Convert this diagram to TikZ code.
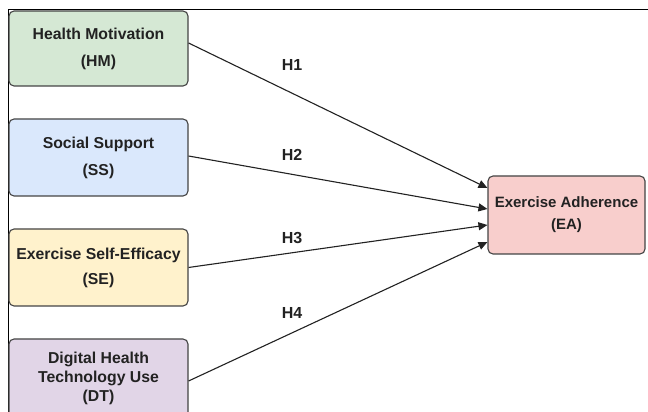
\documentclass[tikz,border=0pt]{standalone}
\usepackage{fontspec}
\setmainfont{Liberation Sans}
\usetikzlibrary{arrows.meta}
\definecolor{hmfill}{HTML}{D5E8D4}
\definecolor{ssfill}{HTML}{DAE8FC}
\definecolor{sefill}{HTML}{FFF2CC}
\definecolor{dtfill}{HTML}{E1D5E7}
\definecolor{eafill}{HTML}{F8CECC}
\definecolor{boxline}{HTML}{444444}
\definecolor{txt}{HTML}{222222}
\tikzset{
  varbox/.style={draw=boxline, line width=1.1pt, rounded corners=5pt, align=center,
    text=txt, font=\fontsize{15.8}{19}\selectfont\bfseries, inner sep=2pt},
  hyp/.style={-{Triangle[length=9pt,width=8pt]}, line width=1.1pt, draw=txt},
  hlabel/.style={text=txt, font=\fontsize{16}{18}\selectfont\bfseries},
  frameline/.style={draw=black, line width=1pt}
}
\begin{document}
\begin{tikzpicture}[x=1pt,y=1pt]
\useasboundingbox (0,0) rectangle (648,412);
\begin{scope}
\clip (0,0) rectangle (648,412);
\fill[white] (0,0) rectangle (648,412);
\draw[frameline] (8,0) -- (8,402) -- (648,402);
\node[varbox, fill=hmfill, minimum width=179pt, minimum height=75pt] (HM) at (98.5,363.5) {Health Motivation\\[8pt](HM)};
\node[varbox, fill=ssfill, minimum width=179pt, minimum height=77pt] (SS) at (98.5,254.5) {Social Support\\[8pt](SS)};
\node[varbox, fill=sefill, minimum width=179pt, minimum height=77pt] (SE) at (98.5,144.5) {Exercise Self-Efficacy\\[6pt](SE)};
\node[varbox, fill=dtfill, minimum width=179pt, minimum height=79pt] (DT) at (98.5,33.5) {Digital Health\\Technology Use\\(DT)};
\node[varbox, fill=eafill, minimum width=157pt, minimum height=78pt, font=\fontsize{15}{18}\selectfont\bfseries] (EA) at (566.5,197) {Exercise Adherence\\[4pt](EA)};
\draw[hyp] ([yshift=5.5pt]HM.east) -- ([yshift=27pt]EA.west);
\draw[hyp] ([yshift=1.5pt]SS.east) -- ([yshift=6pt]EA.west);
\draw[hyp] (SE.east) -- ([yshift=-10pt]EA.west);
\draw[hyp] ([yshift=-2.5pt]DT.east) -- ([yshift=-27pt]EA.west);
\node[hlabel] (H1) at (292,347) {H1};
\node[hlabel] (H2) at (292,257) {H2};
\node[hlabel] (H3) at (292,174) {H3};
\node[hlabel] (H4) at (292,99) {H4};
\end{scope}
\end{tikzpicture}
\end{document}
